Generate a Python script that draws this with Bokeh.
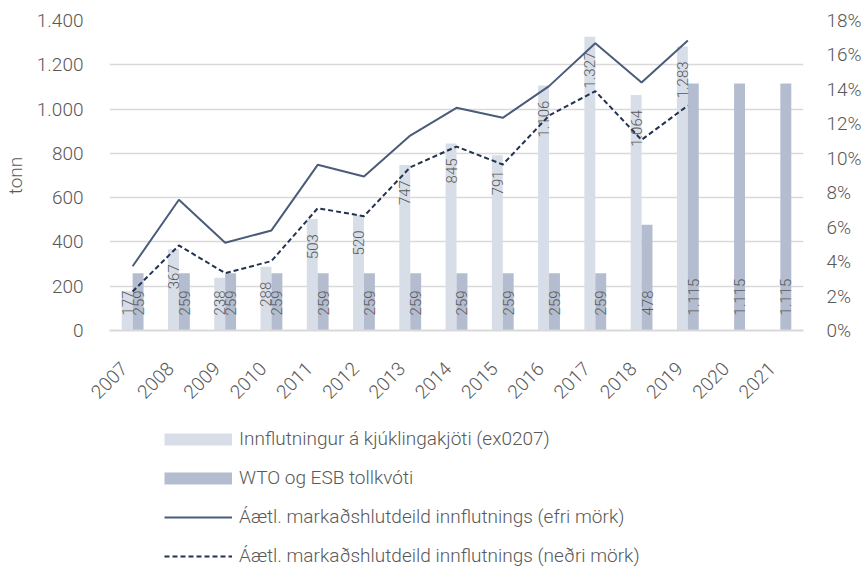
import math
from bokeh.plotting import figure
from bokeh.layouts import column
from bokeh.models import (ColumnDataSource, Range1d, LinearAxis,
                          FixedTicker, Legend, LegendItem)
from bokeh.transform import dodge
from bokeh.core.properties import value
from bokeh.embed import file_html
from bokeh.resources import INLINE

years = ["2007", "2008", "2009", "2010", "2011", "2012", "2013", "2014",
         "2015", "2016", "2017", "2018", "2019", "2020", "2021"]
imports = [177, 367, 238, 288, 503, 520, 747, 845, 791, 1106, 1327, 1064, 1283]
quota = [259, 259, 259, 259, 259, 259, 259, 259, 259, 259, 259, 478, 1115, 1115, 1115]
upper = [3.73, 7.59, 5.09, 5.81, 9.62, 8.94, 11.32, 12.93, 12.35, 14.19, 16.68, 14.40, 16.84]
lower = [2.26, 4.94, 3.33, 4.03, 7.10, 6.64, 9.48, 10.68, 9.64, 12.48, 13.90, 11.07, 13.06]
left_ticks = [0, 200, 400, 600, 800, 1000, 1200, 1400]
right_ticks = [0, 2, 4, 6, 8, 10, 12, 14, 16, 18]

label_imports = "Innflutningur á kjúklingakjöti (ex0207)"
label_quota = "WTO og ESB tollkvóti"
label_upper = "Áætl. markaðshlutdeild innflutnings (efri mörk)"
label_lower = "Áætl. markaðshlutdeild innflutnings (neðri mörk)"

C_LIGHT = "#d7dee8"
C_DARK = "#b4bdcf"
C_UP = "#4b5c7a"
C_LOW = "#22324f"
C_TEXT = "#595959"
C_GRID = "#d9d9d9"
FONT = "Roboto Light, Roboto"

LABEL_PAD = 68        # gap (in tonnes, ~15px) between bar end / base and label
BASE_MODE_MAX = 250   # short light bars get their label at the base
LAB_SHIFT = 0.18      # category-label nudge so the rotated years end at the tick

# category slot centres (slot i spans i..i+1)
pos = [i + 0.5 for i in range(len(years))]


def fmt(v):
    return f"{v:,}".replace(",", ".")


p = figure(width=864, height=410, x_range=Range1d(0, len(years)),
           y_range=Range1d(0, 1400), output_backend="svg", toolbar_location=None,
           x_axis_location=None,
           min_border_left=107, min_border_right=58, min_border_top=20,
           min_border_bottom=80)
p.extra_y_ranges = {"pct": Range1d(0, 18)}
p.extra_x_ranges = {"lab": Range1d(LAB_SHIFT, len(years) + LAB_SHIFT)}
p.outline_line_color = None
p.background_fill_color = "white"

src_imp = ColumnDataSource(dict(x=pos[:len(imports)], v=imports))
src_q = ColumnDataSource(dict(x=pos, v=quota))
src_up = ColumnDataSource(dict(x=pos[:len(upper)], v=upper))
src_low = ColumnDataSource(dict(x=pos[:len(lower)], v=lower))

W = 0.236
OFF = 0.118
p.vbar(x=dodge("x", -OFF), top="v", width=W, source=src_imp,
       fill_color=C_LIGHT, line_color=None)
p.vbar(x=dodge("x", OFF), top="v", width=W, source=src_q,
       fill_color=C_DARK, line_color=None)

# data labels (rotated, reading upwards)
end_idx = [i for i, v in enumerate(imports) if v >= BASE_MODE_MAX]
base_idx = [i for i, v in enumerate(imports) if v < BASE_MODE_MAX]
src_imp_end = ColumnDataSource(dict(x=[pos[i] for i in end_idx],
                                    y=[imports[i] - LABEL_PAD for i in end_idx],
                                    lab=[fmt(imports[i]) for i in end_idx]))
src_imp_base = ColumnDataSource(dict(x=[pos[i] for i in base_idx],
                                     y=[LABEL_PAD for i in base_idx],
                                     lab=[fmt(imports[i]) for i in base_idx]))
src_q_base = ColumnDataSource(dict(x=pos, y=[LABEL_PAD] * len(quota),
                                   lab=[fmt(v) for v in quota]))
common = dict(angle=math.pi / 2, text_font=value(FONT), text_font_size="15px",
              text_color=C_TEXT, text_baseline="middle")
p.text(x=dodge("x", -OFF), y="y", text="lab",
       source=src_imp_end, text_align="right", **common)
p.text(x=dodge("x", -OFF), y="y", text="lab",
       source=src_imp_base, text_align="left", **common)
p.text(x=dodge("x", OFF), y="y", text="lab",
       source=src_q_base, text_align="left", **common)

p.line(x="x", y="v", source=src_up, y_range_name="pct",
       line_color=C_UP, line_width=2)
p.line(x="x", y="v", source=src_low, y_range_name="pct",
       line_color=C_LOW, line_width=2, line_dash="5 3")

# axes
p.xgrid.grid_line_color = None
p.ygrid.grid_line_color = C_GRID
p.ygrid.grid_line_width = 1.5
p.yaxis.ticker = FixedTicker(ticks=left_ticks)
p.yaxis.major_label_overrides = {t: fmt(t) for t in left_ticks}
p.yaxis.axis_label = "tonn"
p.yaxis.axis_label_text_font_style = "normal"
p.yaxis.axis_label_text_font = FONT
p.yaxis.axis_label_text_font_size = "19px"
p.yaxis.axis_label_text_color = C_TEXT
p.yaxis.axis_label_standoff = 7

right = LinearAxis(y_range_name="pct", ticker=FixedTicker(ticks=right_ticks))
right.major_label_overrides = {t: f"{t}%" for t in right_ticks}
p.add_layout(right, "right")

for ax in [p.yaxis[0], right]:
    ax.axis_line_color = None
    ax.major_tick_line_color = None
    ax.minor_tick_line_color = None
    ax.major_label_text_font = FONT
    ax.major_label_text_font_size = "19px"
    ax.major_label_text_color = C_TEXT
p.yaxis[0].major_label_standoff = 20
right.major_label_standoff = 17

xax = LinearAxis(x_range_name="lab", ticker=FixedTicker(ticks=pos))
xax.major_label_overrides = {t: y for t, y in zip(pos, years)}
xax.axis_line_color = C_GRID
xax.axis_line_width = 2
xax.major_tick_line_color = None
xax.minor_tick_line_color = None
xax.major_label_orientation = math.pi / 4
xax.major_label_standoff = 29
xax.major_label_text_font = FONT
xax.major_label_text_font_size = "19px"
xax.major_label_text_color = C_TEXT
p.add_layout(xax, "below")

# legend in its own strip below the chart
lg = figure(width=864, height=167, x_range=Range1d(0, 1), y_range=Range1d(0, 1),
            output_backend="svg", toolbar_location=None, x_axis_type=None,
            y_axis_type=None, min_border=0, outline_line_color=None)
lg.grid.visible = False
nan = float("nan")
px_light = lg.line(x=[nan, nan], y=[nan, nan], line_color=C_LIGHT, line_width=12)
px_dark = lg.line(x=[nan, nan], y=[nan, nan], line_color=C_DARK, line_width=12)
px_up = lg.line(x=[nan, nan], y=[nan, nan], line_color=C_UP, line_width=2)
px_low = lg.line(x=[nan, nan], y=[nan, nan], line_color=C_LOW, line_width=2,
                 line_dash="5 3")
legend = Legend(items=[LegendItem(label=label_imports, renderers=[px_light]),
                       LegendItem(label=label_quota, renderers=[px_dark]),
                       LegendItem(label=label_upper, renderers=[px_up]),
                       LegendItem(label=label_lower, renderers=[px_low])],
                location=(55, 10), orientation="vertical",
                glyph_width=68, glyph_height=20, label_height=20, spacing=16,
                label_standoff=7, padding=0, margin=0,
                border_line_color=None, background_fill_alpha=0,
                label_text_font=FONT, label_text_font_size="19px",
                label_text_color=C_TEXT)
lg.add_layout(legend, "center")

open("out.html", "w").write(file_html(column(p, lg, spacing=0), INLINE))
